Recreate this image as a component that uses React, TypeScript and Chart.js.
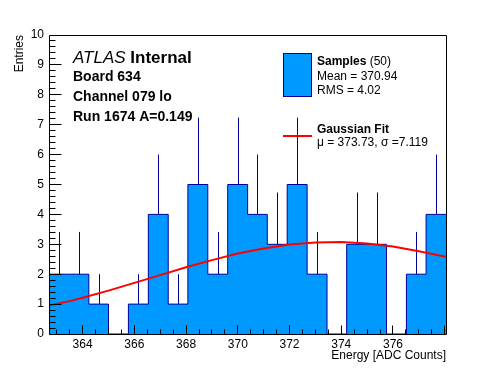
import { useEffect, useRef } from 'react';
import { Chart, registerables } from 'chart.js';

Chart.register(...registerables);

// ---- data ----
const binEdges = [
  362.7, 363.47, 364.24, 365.0, 365.77, 366.54, 367.31, 368.07, 368.84, 369.61,
  370.38, 371.14, 371.91, 372.68, 373.45, 374.21, 374.98, 375.75, 376.52, 377.28, 378.05,
];
const counts = [2, 2, 1, 0, 1, 4, 1, 5, 2, 5, 4, 3, 5, 2, 0, 3, 3, 0, 2, 4];

const fitX = [362.7, 363.5, 364, 365, 366, 367, 368, 369, 370, 371, 372, 373, 374, 375, 376, 377, 378.05];
const fitY = [0.95, 1.1, 1.21, 1.45, 1.71, 1.97, 2.23, 2.47, 2.69, 2.86, 2.99, 3.06, 3.08, 3.03, 2.93, 2.77, 2.58];

const xRange = [362.7, 378.05];
const yRange = [0, 10];
const xTickValues = [364, 366, 368, 370, 372, 374, 376];
const yTickValues = [0, 1, 2, 3, 4, 5, 6, 7, 8, 9, 10];

const headerLines = ['Board 634', 'Channel 079 lo', 'Run 1674 A=0.149'];
const sampleLines = ['Mean = 370.94', 'RMS = 4.02'];
const fitLine = 'μ = 373.73, σ =7.119';

const FONT = '"Liberation Sans", Arial, Helvetica, sans-serif';
const FILL = 'rgb(0,153,255)';
const EDGE = 'rgb(0,0,153)';
const RED = 'rgb(255,0,0)';

const overlay = {
  id: 'overlay',
  beforeDatasetsDraw(chart: any) {
    const { ctx, chartArea: a, scales } = chart;
    const x = scales.x;
    const y = scales.y;
    ctx.save();
    ctx.beginPath();
    ctx.rect(a.left, a.top, a.right - a.left, a.bottom - a.top);
    ctx.clip();
    ctx.strokeStyle = EDGE;
    ctx.lineWidth = 1;
    counts.forEach((v, i) => {
      if (v <= 0) return;
      const c = (binEdges[i] + binEdges[i + 1]) / 2;
      const px = Math.round(x.getPixelForValue(c)) + 0.5;
      const e = Math.sqrt(v);
      ctx.beginPath();
      ctx.moveTo(px, y.getPixelForValue(v - e));
      ctx.lineTo(px, y.getPixelForValue(v + e));
      ctx.stroke();
    });
    ctx.restore();
  },
  afterDraw(chart: any) {
    const { ctx, chartArea: a, scales } = chart;
    const x = scales.x;
    const y = scales.y;
    const L = Math.floor(a.left) + 0.5;
    const R = Math.floor(a.right) + 0.5;
    const T = Math.floor(a.top) + 0.5;
    const B = Math.floor(a.bottom) + 0.5;
    ctx.save();
    ctx.strokeStyle = '#000';
    ctx.lineWidth = 1;
    ctx.beginPath();
    // frame
    ctx.rect(L, T, R - L, B - T);
    // y ticks
    for (let k = 0; k <= 50; k++) {
      const v = yRange[0] + k * 0.2;
      const py = Math.floor(y.getPixelForValue(v)) + 0.5;
      const len = k % 5 === 0 ? 12 : 6;
      ctx.moveTo(L, py);
      ctx.lineTo(L + len, py);
    }
    // x ticks
    for (let k = 0; ; k++) {
      const v = 363 + k * 0.5;
      if (v > xRange[1]) break;
      const px = Math.floor(x.getPixelForValue(v)) + 0.5;
      const len = k % 4 === 2 ? 9 : 5;
      ctx.moveTo(px, B);
      ctx.lineTo(px, B - len);
    }
    ctx.stroke();

    // header text
    ctx.fillStyle = '#000';
    ctx.textAlign = 'left';
    ctx.textBaseline = 'alphabetic';
    ctx.font = `italic 17px ${FONT}`;
    ctx.fillText('ATLAS', 73, 63);
    const w = ctx.measureText('ATLAS ').width;
    ctx.font = `bold 17px ${FONT}`;
    ctx.fillText('Internal', 73 + w, 63);
    ctx.font = `bold 14px ${FONT}`;
    headerLines.forEach((t, i) => ctx.fillText(t, 73, 81 + i * 20));

    // legend
    ctx.fillStyle = FILL;
    ctx.fillRect(283.5, 53.5, 28, 43);
    ctx.strokeStyle = EDGE;
    ctx.strokeRect(283.5, 53.5, 28, 43);
    ctx.fillStyle = '#000';
    ctx.font = `bold 12px ${FONT}`;
    ctx.fillText('Samples', 317, 65);
    const ws = ctx.measureText('Samples').width;
    ctx.font = `12px ${FONT}`;
    ctx.fillText(' (50)', 317 + ws, 65);
    sampleLines.forEach((t, i) => ctx.fillText(t, 317, 80 + i * 14));

    ctx.strokeStyle = RED;
    ctx.lineWidth = 2;
    ctx.beginPath();
    ctx.moveTo(283, 136);
    ctx.lineTo(312, 136);
    ctx.stroke();
    ctx.font = `bold 12px ${FONT}`;
    ctx.fillText('Gaussian Fit', 317, 133);
    ctx.font = `12px ${FONT}`;
    ctx.fillText(fitLine, 317, 146);
    ctx.restore();
  },
};

export default function App() {
  const ref = useRef<HTMLCanvasElement | null>(null);

  useEffect(() => {
    if (!ref.current) return;
    const histData = counts.map((v, i) => ({ x: binEdges[i], y: v }));
    histData.push({ x: binEdges[binEdges.length - 1], y: counts[counts.length - 1] });
    const fitData = fitX.map((v, i) => ({ x: v, y: fitY[i] }));

    const chart = new Chart(ref.current, {
      type: 'line',
      data: {
        datasets: [
          {
            label: 'Gaussian Fit',
            data: fitData,
            borderColor: RED,
            borderWidth: 2,
            pointRadius: 0,
            fill: false,
            tension: 0,
            order: 0,
          },
          {
            label: 'Samples',
            data: histData,
            stepped: 'before',
            fill: 'origin',
            backgroundColor: FILL,
            borderColor: EDGE,
            borderWidth: 1,
            pointRadius: 0,
            order: 1,
          },
        ],
      },
      options: {
        animation: false,
        responsive: false,
        events: [],
        layout: { padding: { left: 0, top: 35, right: 50, bottom: 0 } },
        plugins: {
          legend: { display: false },
          tooltip: { enabled: false },
        },
        scales: {
          x: {
            type: 'linear',
            min: xRange[0],
            max: xRange[1],
            afterBuildTicks: (s: any) => {
              s.ticks = xTickValues.map((v) => ({ value: v }));
            },
            afterFit: (s: any) => {
              s.height = 38;
            },
            grid: { display: false, drawTicks: false },
            border: { display: false },
            ticks: {
              color: '#000',
              font: { family: FONT, size: 12 },
              padding: 3,
              maxRotation: 0,
              autoSkip: false,
            },
            title: {
              display: true,
              text: 'Energy [ADC Counts]',
              align: 'end',
              color: '#000',
              font: { family: FONT, size: 12 },
              padding: { top: 0, bottom: 9 },
            },
          },
          y: {
            type: 'linear',
            min: yRange[0],
            max: yRange[1],
            afterBuildTicks: (s: any) => {
              s.ticks = yTickValues.map((v) => ({ value: v }));
            },
            afterFit: (s: any) => {
              s.width = 49;
            },
            grid: { display: false, drawTicks: false },
            border: { display: false },
            ticks: {
              color: '#000',
              font: { family: FONT, size: 12 },
              padding: 5,
              autoSkip: false,
            },
            title: {
              display: true,
              text: 'Entries',
              align: 'end',
              color: '#000',
              font: { family: FONT, size: 12 },
              padding: { top: 12, bottom: 0 },
            },
          },
        },
      },
      plugins: [overlay],
    } as any);

    return () => chart.destroy();
  }, []);

  return (
    <div style={{ position: 'absolute', left: 0, top: 0, width: 496, height: 372, background: '#fff' }}>
      <canvas ref={ref} width={496} height={372} />
    </div>
  );
}
